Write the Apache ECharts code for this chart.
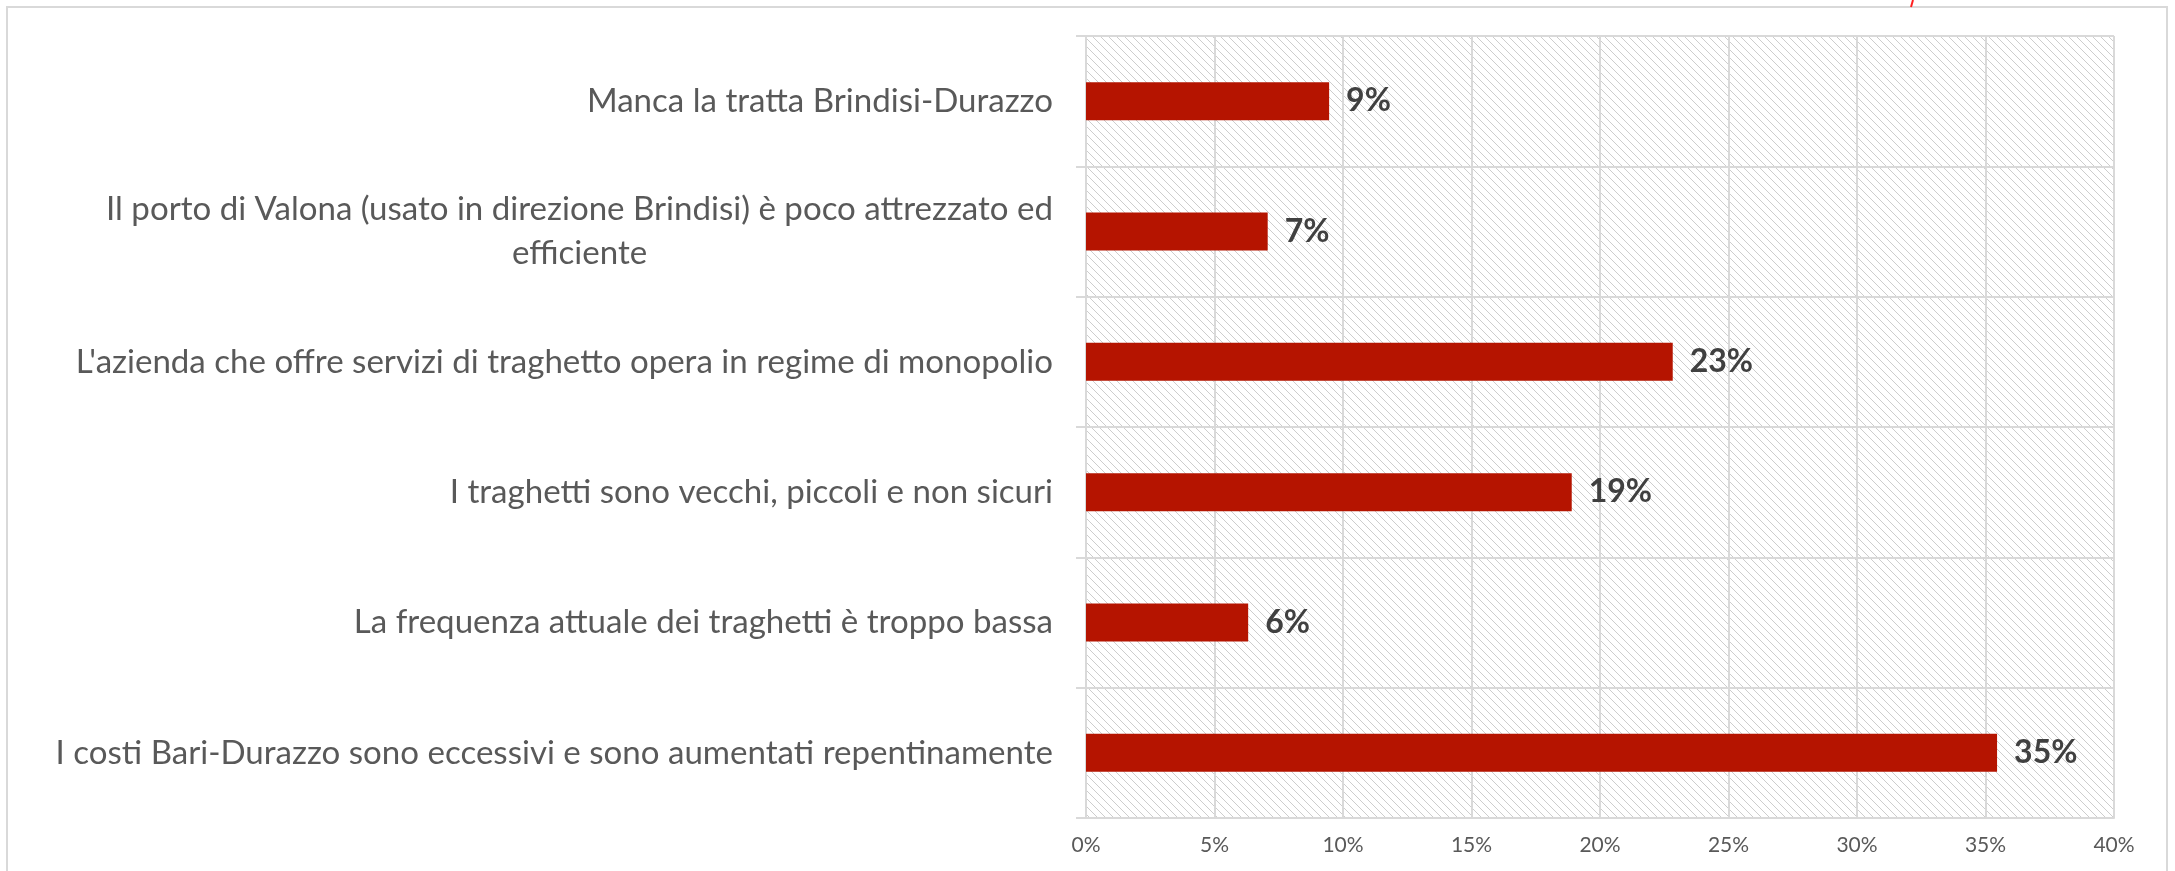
<!DOCTYPE html>
<html>
<head>
<meta charset="utf-8">
<script src="https://cdn.jsdelivr.net/npm/echarts@6/dist/echarts.min.js"></script>
<style>
html,body{margin:0;padding:0;background:#fff;}
#chart{width:2175px;height:871px;}
</style>
</head>
<body>
<div id="chart"></div>
<script>
const categories = [
  "Manca la tratta Brindisi-Durazzo",
  "Il porto di Valona (usato in direzione Brindisi) è poco attrezzato ed\nefficiente",
  "L'azienda che offre servizi di traghetto opera in regime di monopolio",
  "I traghetti sono vecchi, piccoli e non sicuri",
  "La frequenza attuale dei traghetti è troppo bassa",
  "I costi Bari-Durazzo sono eccessivi e sono aumentati repentinamente"
];
const values = [0.0946, 0.0707, 0.2283, 0.189, 0.0631, 0.3545];
const xTicks = [0, 0.05, 0.10, 0.15, 0.20, 0.25, 0.30, 0.35, 0.40];

const FONT = 'Lato, "Noto Sans", sans-serif';

// fit category label font so the longest label matches the reference width
const mctx = document.createElement('canvas').getContext('2d');
mctx.font = '32px ' + FONT;
const longest = categories[5];
const mw = mctx.measureText(longest).width;
const catFont = Math.max(24, Math.min(36, 32 * 998 / mw));

// hatch pattern
const pc = document.createElement('canvas');
pc.width = 8; pc.height = 8;
const p = pc.getContext('2d');
p.fillStyle = '#ffffff';
p.fillRect(0, 0, 8, 8);
p.fillStyle = '#cdcdcd';
for (let i = 0; i < 8; i++) {
  p.fillRect(i, i, 1, 1);
}

const chart = echarts.init(document.getElementById('chart'), null, {renderer: 'canvas'});
const grid = '#d9d9d9';
chart.setOption({
  backgroundColor: '#ffffff',
  animation: false,
  grid: {
    left: 1086, right: 61, top: 36, bottom: 53,
    show: true,
    backgroundColor: {image: pc, repeat: 'repeat'},
    borderWidth: 0
  },
  xAxis: {
    type: 'value',
    min: xTicks[0],
    max: xTicks[xTicks.length - 1],
    interval: xTicks[1] - xTicks[0],
    axisLine: {show: true, lineStyle: {color: grid, width: 2}},
    axisTick: {show: false},
    splitLine: {show: true, lineStyle: {color: grid, width: 2}},
    axisLabel: {
      fontFamily: FONT, fontSize: 21, color: '#595959', margin: 17,
      formatter: v => Math.round(v * 100) + '%'
    }
  },
  yAxis: {
    type: 'category',
    inverse: true,
    data: categories,
    axisLine: {show: true, lineStyle: {color: grid, width: 2}},
    axisTick: {show: true, length: 10, lineStyle: {color: grid, width: 2}},
    splitLine: {show: true, lineStyle: {color: grid, width: 2}},
    axisLabel: {
      margin: 33,
      formatter: v => v.split('\n').map(s => '{c|' + s + '}').join('\n'),
      rich: {
        c: {fontFamily: FONT, fontSize: catFont, color: '#595959', align: 'center', lineHeight: 44}
      }
    }
  },
  series: [{
    type: 'bar',
    data: values,
    barWidth: 38,
    itemStyle: {color: '#b51400'},
    label: {
      show: true,
      position: 'right',
      distance: 17,
      fontFamily: FONT,
      fontWeight: 'bold',
      fontSize: 32,
      color: '#404040',
      formatter: p => Math.round(p.value * 100) + '%'
    }
  }],
  graphic: [
    {type: 'rect', shape: {x: 7, y: 7, width: 2160, height: 900}, style: {fill: 'none', stroke: '#d9d9d9', lineWidth: 2}, silent: true, z: 100},
    {type: 'line', shape: {x1: 1913, y1: 0, x2: 1911, y2: 7}, style: {stroke: '#ff2020', lineWidth: 2}, silent: true, z: 100}
  ]
});
</script>
</body>
</html>
